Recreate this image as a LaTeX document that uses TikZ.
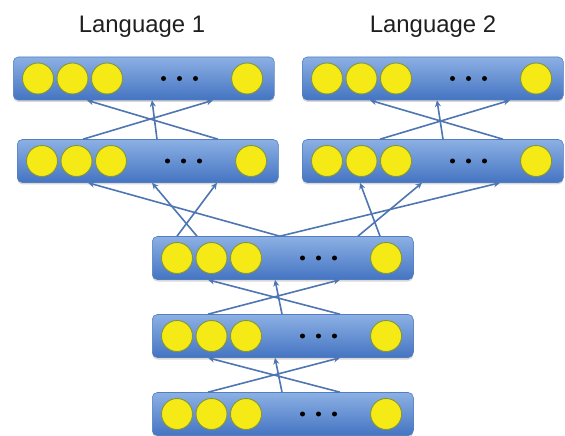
\documentclass[tikz,border=0pt]{standalone}
\usepackage{fontspec}
\setmainfont{Liberation Sans}
\usetikzlibrary{arrows.meta,shadows}

\definecolor{boxtop}{RGB}{140,176,228}
\definecolor{boxbot}{RGB}{68,116,194}
\definecolor{boxline}{RGB}{84,126,190}
\definecolor{unitfill}{RGB}{246,234,22}
\definecolor{unitline}{RGB}{130,150,60}
\definecolor{linkcol}{RGB}{78,118,178}

\tikzset{
  layerbox/.style={draw=boxline, line width=0.6bp, rounded corners=5bp,
    top color=boxtop, bottom color=boxbot, minimum width=261bp,
    minimum height=43bp, anchor=west, inner sep=0pt,
    drop shadow={shadow xshift=0bp, shadow yshift=-2bp, opacity=0.3}},
  unit/.style={circle, draw=unitline, line width=0.9bp, fill=unitfill,
    minimum size=31bp, inner sep=0pt},
  dotmark/.style={circle, fill=black, minimum size=5bp, inner sep=0pt},
  link/.style={draw=linkcol, line width=1.6bp,
    -{Stealth[length=6.5bp,width=6bp]}},
  title/.style={font=\fontsize{24}{28}\selectfont, text=black!88, anchor=base}
}

% one layer: box, three units, an ellipsis and a final unit
\newcommand\layerrow[3]{%
  \node[layerbox] (#1) at (#2,#3) {};
  \node[unit] (#1-u1) at ([xshift=25bp]#1.west) {};
  \node[unit] (#1-u2) at ([xshift=59.5bp]#1.west) {};
  \node[unit] (#1-u3) at ([xshift=94bp]#1.west) {};
  \node[dotmark] (#1-d1) at ([xshift=150.5bp]#1.west) {};
  \node[dotmark] (#1-d2) at ([xshift=166.5bp]#1.west) {};
  \node[dotmark] (#1-d3) at ([xshift=182.5bp]#1.west) {};
  \node[unit] (#1-un) at ([xshift=-27.5bp]#1.east) {};
}

\begin{document}
\begin{tikzpicture}[x=1bp,y=-1bp]
\useasboundingbox (0,0) rectangle (565,436);
\fill[white] (0,0) rectangle (565,436);

% language-specific layers
\layerrow{TL}{13}{78.5}
\layerrow{TR}{302}{78.5}
\layerrow{ML}{17}{161}
\layerrow{MR}{302}{161}
% shared layers
\layerrow{SA}{152}{258}
\layerrow{SB}{152}{336}
\layerrow{SC}{152}{414}

\node[title] (lang1) at (142,33) {Language 1};
\node[title] (lang2) at (433,33) {Language 2};

% shared stack
\draw[link] ([xshift=56bp]SC.north west) -- ([xshift=188bp]SB.south west);
\draw[link] ([xshift=188bp]SC.north west) -- ([xshift=56bp]SB.south west);
\draw[link] ([xshift=130bp]SC.north west) -- ([xshift=123bp]SB.south west);
\draw[link] ([xshift=56bp]SB.north west) -- ([xshift=188bp]SA.south west);
\draw[link] ([xshift=188bp]SB.north west) -- ([xshift=56bp]SA.south west);
\draw[link] ([xshift=130bp]SB.north west) -- ([xshift=123bp]SA.south west);

% shared top layer into both languages
\draw[link] ([xshift=45bp]SA.north west) -- ([xshift=135bp]ML.south west);
\draw[link] ([xshift=25bp]SA.north west) -- ([xshift=200bp]ML.south west);
\draw[link] ([xshift=-3bp]SA.north) -- ([xshift=71bp]ML.south west);
\draw[link] ([xshift=228bp]SA.north west) -- ([xshift=58bp]MR.south west);
\draw[link] ([xshift=206bp]SA.north west) -- ([xshift=120bp]MR.south west);
\draw[link] ([xshift=-3bp]SA.north) -- ([xshift=198bp]MR.south west);

% language 1 output layer
\draw[link] ([xshift=66bp]ML.north west) -- ([xshift=200bp]TL.south west);
\draw[link] ([xshift=201bp]ML.north west) -- ([xshift=74bp]TL.south west);
\draw[link] ([xshift=140bp]ML.north west) -- ([xshift=139bp]TL.south west);

% language 2 output layer
\draw[link] ([xshift=78bp]MR.north west) -- ([xshift=208bp]TR.south west);
\draw[link] ([xshift=201bp]MR.north west) -- ([xshift=68bp]TR.south west);
\draw[link] ([xshift=141bp]MR.north west) -- ([xshift=135bp]TR.south west);
\end{tikzpicture}
\end{document}
